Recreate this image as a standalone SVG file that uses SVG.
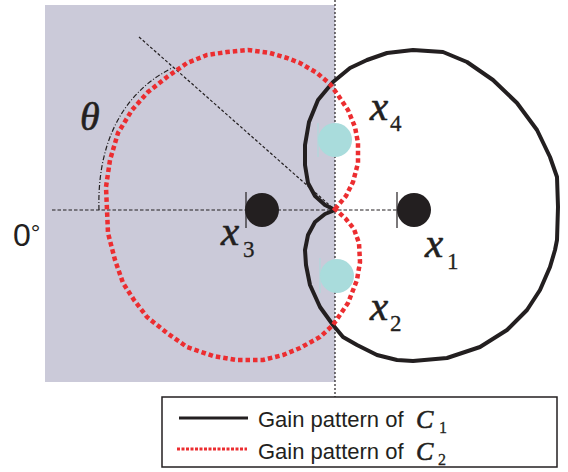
<svg xmlns="http://www.w3.org/2000/svg" width="568" height="472" viewBox="0 0 568 472">
<style>
.lbl{font-family:"Liberation Serif","Times New Roman",serif;font-style:italic;fill:#231f20;stroke:#231f20;stroke-width:0.6}
.sub{font-family:"Liberation Serif","Times New Roman",serif;font-style:normal;fill:#231f20;stroke:#231f20;stroke-width:0.3}
.sans{font-family:"Liberation Sans",Arial,sans-serif;fill:#231f20}
.guide{fill:none;stroke:#231f20;stroke-width:1.2}
.c1{fill:none;stroke:#231f20;stroke-width:4;stroke-linejoin:round;stroke-linecap:round}
.c2{fill:none;stroke:#ec2d30;stroke-width:4.5;stroke-dasharray:4.5 3}
.blk{fill:#231f20}
.cyan{fill:#a9dcdc}
</style>
<rect id="region" x="45" y="5" width="290" height="377" fill="#cbcad9"/>
<g id="connectors">
<line class="guide" x1="335" y1="0" x2="335" y2="397" stroke-dasharray="2 2"/>
<line class="guide" x1="52" y1="210" x2="398" y2="210" stroke-dasharray="3.5 2"/>
<line class="guide" x1="139" y1="37" x2="335" y2="210" stroke-dasharray="3 2"/>
<path class="guide" d="M99,210 C97,150 118,95 172,68" stroke-dasharray="5 2 1 2"/>
<path id="C1" class="c1" d="M335,210 L325,205 L315,196 L308,183 L305,165 L305,145 L309,122 L318,100 L333,82 L350,68 L367,60 L387,53 L413,50 L443,52 L467,62 L493,80 L517,103 L537,130 L550,157 L557,177 L558,207 L557,240 L555,250 L550,267 L540,290 L527,310 L507,330 L480,347 L447,358 L413,361 L397,360 L377,355 L357,345 L343,337 L333,325 L320,307 L310,285 L306,265 L305,250 L308,235 L315,222 L325,214 Z"/>
<path id="C2" class="c2" d="M335,209 L346,196 L353,182 L358,163 L358,143 L355,127 L348,110 L338,95 L330,84 L317,73 L300,63 L287,58 L270,53 L248,50 L227,52 L207,55 L187,63 L167,77 L148,92 L132,110 L118,133 L110,160 L106,187 L107,210 L108,233 L115,260 L123,283 L134,300 L147,317 L167,333 L187,347 L213,356 L237,360 L263,360 L283,355 L300,348 L320,337 L333,325 L348,303 L357,280 L360,262 L359,243 L354,229 L346,219 Z"/>
</g>
<g id="x3">
<line class="guide" x1="246" y1="192" x2="246" y2="228"/>
<circle class="blk" cx="262" cy="210" r="17"/>
<text class="lbl" x="221" y="245" font-size="41">x<tspan class="sub" x="243" y="257" font-size="23">3</tspan></text>
</g>
<g id="x1">
<line class="guide" x1="397" y1="192" x2="397" y2="228"/>
<circle class="blk" cx="414" cy="210" r="17"/>
<text class="lbl" x="425" y="257" font-size="41">x<tspan class="sub" x="447" y="269" font-size="23">1</tspan></text>
</g>
<g id="x4">
<line x1="318" y1="123" x2="318" y2="157" stroke="#a9dcdc" stroke-width="1"/>
<circle class="cyan" cx="335" cy="140" r="17"/>
<text class="lbl" x="370" y="120" font-size="41">x<tspan class="sub" x="390" y="131" font-size="23">4</tspan></text>
</g>
<g id="x2">
<line x1="320" y1="258" x2="320" y2="293" stroke="#a9dcdc" stroke-width="1"/>
<circle class="cyan" cx="337" cy="276" r="17"/>
<text class="lbl" x="370" y="320" font-size="41">x<tspan class="sub" x="390" y="331" font-size="23">2</tspan></text>
</g>
<g id="theta">
<text class="lbl" x="80" y="130" font-size="40">θ</text>
</g>
<g id="zero">
<text class="sans" x="13" y="246" font-size="32">0<tspan dy="-5" font-size="24">°</tspan></text>
</g>
<g id="legend">
<rect x="162" y="397" width="395" height="70" fill="#ffffff" stroke="#231f20" stroke-width="1.5"/>
<line x1="179" y1="418" x2="248" y2="418" stroke="#231f20" stroke-width="3"/>
<line x1="177" y1="449" x2="247" y2="449" stroke="#ec2d30" stroke-width="3" stroke-dasharray="3 1.5"/>
<text class="sans" x="258" y="427" font-size="22">Gain pattern of</text>
<text class="lbl" x="416" y="428" font-size="26" stroke-width="0.3">C<tspan class="sub" x="439" y="433" font-size="16">1</tspan></text>
<text class="sans" x="258" y="459" font-size="22">Gain pattern of</text>
<text class="lbl" x="416" y="460" font-size="26" stroke-width="0.3">C<tspan class="sub" x="438" y="465" font-size="16">2</tspan></text>
</g>
</svg>
